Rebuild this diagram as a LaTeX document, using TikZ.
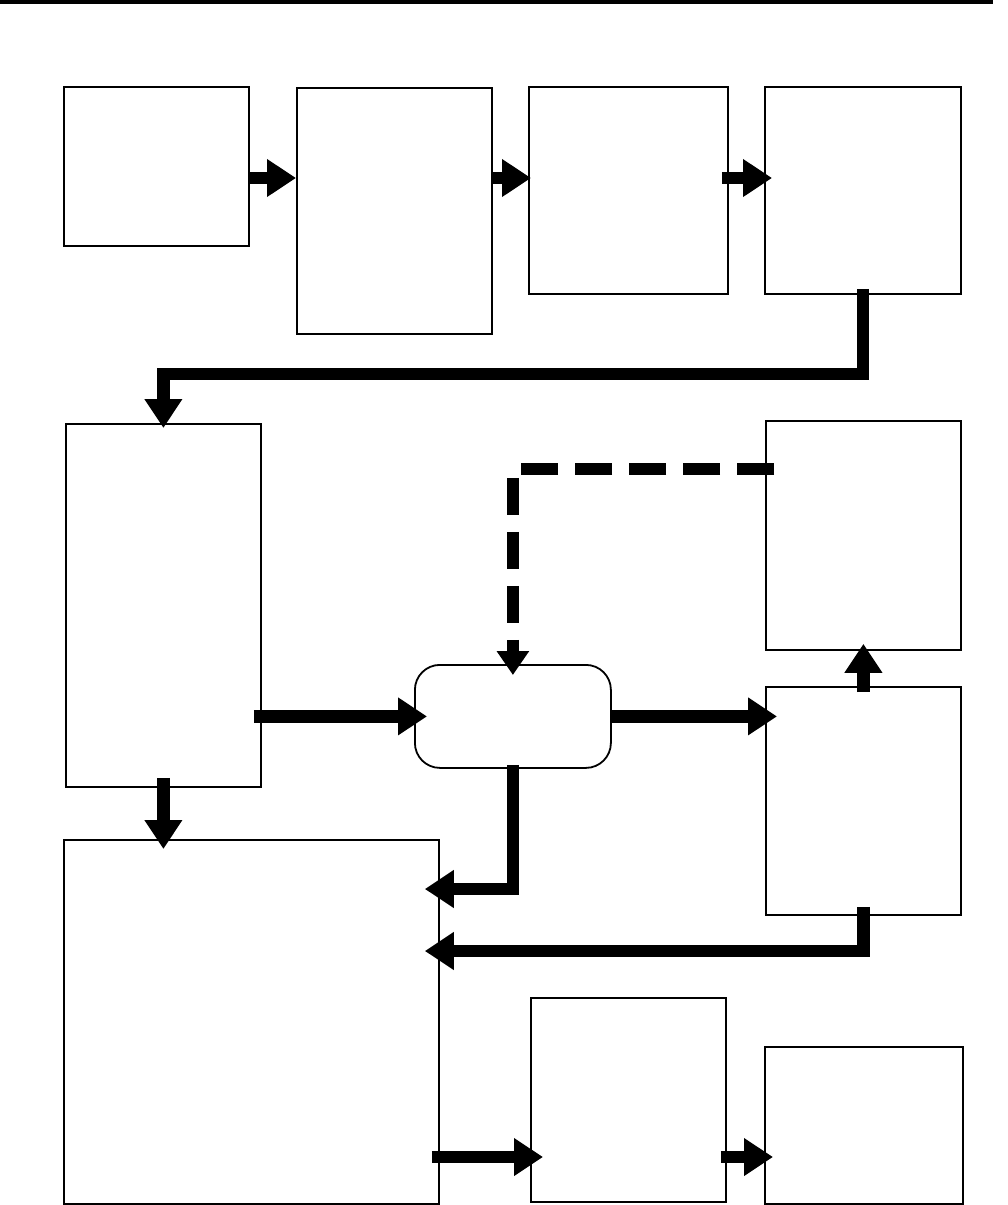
\documentclass[tikz,border=0pt]{standalone}
\usetikzlibrary{arrows.meta}
\begin{document}
\begin{tikzpicture}[x=1pt, y=-1pt,
   box/.style={draw, line width=1.8pt, inner sep=0pt, anchor=north west},
   flow/.style={line width=12.5pt, -{Triangle[length=29pt,width=36pt]}},
   hint/.style={line width=12.5pt, dash pattern=on 37pt off 17pt,
                -{Triangle[length=24pt,width=31pt]}}]

\useasboundingbox (0,0) rectangle (1008,1205);
\fill (0,0) rectangle (993,4);

\node[box, minimum width=185pt, minimum height=159pt] (a) at (63,86) {};
\node[box, minimum width=195pt, minimum height=246pt] (b) at (296,87) {};
\node[box, minimum width=199pt, minimum height=207pt] (c) at (528,86) {};
\node[box, minimum width=196pt, minimum height=207pt] (d) at (764,86) {};
\node[box, minimum width=195pt, minimum height=363pt] (e) at (65,423) {};
\node[box, minimum width=195pt, minimum height=229pt] (f) at (765,420) {};
\node[box, minimum width=196pt, minimum height=103pt,
      rounded corners=25pt] (g) at (414,664) {};
\node[box, minimum width=195pt, minimum height=228pt] (h) at (765,686) {};
\node[box, minimum width=375pt, minimum height=364pt] (i) at (63,839) {};
\node[box, minimum width=195pt, minimum height=204pt] (j) at (530,997) {};
\node[box, minimum width=198pt, minimum height=157pt] (k) at (764,1046) {};

\draw[flow] (a.east |- 0,178) -- (b.west |- 0,178);
\draw[flow, shorten >=-3pt] (b.east |- 0,178) -- (c.west |- 0,178);
\draw[flow, shorten <=-7pt, shorten >=-8pt] (c.east |- 0,178) -- (d.west |- 0,178);
\draw[flow, shorten <=-6pt, shorten >=-5pt]
   (d.south) |- (e.north |- 0,374) -- (e.north);
\draw[hint, shorten <=-9pt, shorten >=-11pt] (f.west |- 0,469) -| (g.north);
\draw[flow, shorten <=-8pt, shorten >=-13pt] (e.east |- g.west) -- (g.west);
\draw[flow, shorten >=-12pt] (g.east) -- (h.west |- g.east);
\draw[flow, shorten <=-6pt, shorten >=-7pt] (h.north) -- (f.south);
\draw[flow, shorten <=-10pt, shorten >=-10pt] (e.south) -- (e.south |- i.north);
\draw[flow, shorten <=-4pt, shorten >=-15pt] (g.south) |- (i.east |- 0,889);
\draw[flow, shorten <=-9pt, shorten >=-15pt] (h.south) |- (i.east |- 0,951);
\draw[flow, shorten <=-8pt, shorten >=-13pt] (i.east |- 0,1157) -- (j.west |- 0,1157);
\draw[flow, shorten <=-6pt, shorten >=-9pt] (j.east |- 0,1157) -- (k.west |- 0,1157);

\end{tikzpicture}
\end{document}
